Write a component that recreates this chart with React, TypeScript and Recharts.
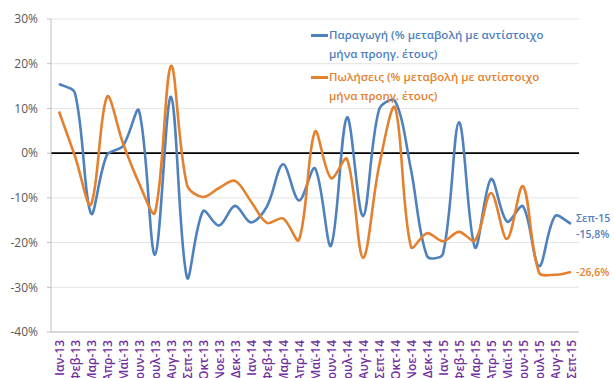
import React from 'react';
import { LineChart, Line, XAxis, YAxis, CartesianGrid, ReferenceLine, Legend } from 'recharts';

const months = [
  'Ιαν-13', 'Φεβ-13', 'Μαρ-13', 'Απρ-13', 'Μαϊ-13', 'Ιουν-13', 'Ιουλ-13', 'Αυγ-13', 'Σεπ-13', 'Οκτ-13', 'Νοε-13', 'Δεκ-13',
  'Ιαν-14', 'Φεβ-14', 'Μαρ-14', 'Απρ-14', 'Μαϊ-14', 'Ιουν-14', 'Ιουλ-14', 'Αυγ-14', 'Σεπ-14', 'Οκτ-14', 'Νοε-14', 'Δεκ-14',
  'Ιαν-15', 'Φεβ-15', 'Μαρ-15', 'Απρ-15', 'Μαϊ-15', 'Ιουν-15', 'Ιουλ-15', 'Αυγ-15', 'Σεπ-15',
];

const production = [
  15.5, 13.4, -13.5, -0.4, 1.6, 9.5, -22.7, 12.6, -27.8, -13, -16.2, -11.8,
  -15.5, -11.9, -2.5, -10.6, -3.4, -20.7, 8.0, -14.1, 9.7, 11.7, -3.7, -23,
  -22.5, 6.9, -21.1, -5.8, -15.3, -11.9, -25.3, -14.1, -15.8,
];

const sales = [
  9.3, -0.7, -11.5, 12.6, 2.2, -6.7, -13.3, 19.5, -7.1, -9.8, -7.8, -6.2,
  -10.8, -15.6, -14.6, -19.4, 4.8, -5.6, -1.3, -23.4, -3, 10.2, -21, -17.9,
  -19.7, -17.6, -19.5, -8.9, -19.2, -7.4, -26.7, -27.2, -26.6,
];

const yTicks = [-40, -30, -20, -10, 0, 10, 20, 30];

const seriesNames = {
  production: ['Παραγωγή (% μεταβολή με αντίστοιχο', 'μήνα προηγ. έτους)'],
  sales: ['Πωλήσεις (% μεταβολή με αντίστοιχο', 'μήνα προηγ. έτους)'],
};

const lastLabels = {
  production: ['Σεπ-15', '-15,8%'],
  sales: ['-26,6%'],
};

const data = months.map((m, i) => ({ month: m, production: production[i], sales: sales[i] }));

const BLUE = '#4f81bd';
const ORANGE = '#e3812f';
const FONT = '"Open Sans", "Noto Sans", sans-serif';

// Excel-like smoothing: Bezier through the points with chord-length weighted handles
const smoothCurve = (context: any) => {
  let pts: number[][] = [];
  const dist = (a: number[], b: number[]) => Math.hypot(b[0] - a[0], b[1] - a[1]);
  return {
    areaStart() {},
    areaEnd() {},
    lineStart() { pts = []; },
    point(x: number, y: number) { pts.push([+x, +y]); },
    lineEnd() {
      const n = pts.length;
      if (!n) return;
      const hin: number[][] = [];
      const hout: number[][] = [];
      for (let i = 0; i < n; i++) {
        const prev = pts[i - 1] || pts[i];
        const next = pts[i + 1] || pts[i];
        const tx = next[0] - prev[0];
        const ty = next[1] - prev[1];
        const dp = dist(prev, pts[i]);
        const dn = dist(pts[i], next);
        const s = dp + dn || 1;
        const k = 1 / 3;
        hin.push([pts[i][0] - tx * k * (dp / s), pts[i][1] - ty * k * (dp / s)]);
        hout.push([pts[i][0] + tx * k * (dn / s), pts[i][1] + ty * k * (dn / s)]);
      }
      context.moveTo(pts[0][0], pts[0][1]);
      for (let i = 0; i < n - 1; i++) {
        context.bezierCurveTo(hout[i][0], hout[i][1], hin[i + 1][0], hin[i + 1][1], pts[i + 1][0], pts[i + 1][1]);
      }
    },
  };
};

const XTick = (props: any) => {
  const { x, y, payload } = props;
  return (
    <text
      x={x}
      y={y}
      transform={`rotate(-90, ${x}, ${y})`}
      textAnchor="end"
      dominantBaseline="central"
      fill="#7030a0"
      fontSize={12}
      fontWeight={600}
      fontFamily={FONT}
    >
      {payload.value}
    </text>
  );
};

const makeEndLabel = (lines: string[], color: string, dyStart: number) => (props: any) => {
  const { x, y, index } = props;
  if (index !== months.length - 1) return null;
  return (
    <text x={x + 5} y={y + dyStart} fill={color} fontSize={10.5} fontWeight={600} fontFamily={FONT}>
      {lines.map((l, k) => (
        <tspan key={k} x={x + 5} dy={k === 0 ? 0 : 16}>{l}</tspan>
      ))}
    </text>
  );
};

const LegendContent = () => {
  const items = [
    { color: BLUE, lines: seriesNames.production },
    { color: ORANGE, lines: seriesNames.sales },
  ];
  return (
    <div style={{ fontFamily: FONT, fontWeight: 600, fontSize: 11.5 }}>
      {items.map((it, i) => (
        <div key={i} style={{ display: 'flex', alignItems: 'flex-start', marginBottom: i === 0 ? 4 : 0 }}>
          <div style={{ width: 17, height: 2.5, background: it.color, marginTop: 9, marginRight: 1 }} />
          <div style={{ color: it.color, lineHeight: '19px' }}>
            {it.lines.map((l, k) => (
              <div key={k}>{l}</div>
            ))}
          </div>
        </div>
      ))}
    </div>
  );
};

export default function App() {
  return (
    <div style={{ position: 'absolute', left: 0, top: 0, width: 614, height: 378, background: '#fff', overflow: 'hidden' }}>
      <LineChart width={614} height={378} data={data} margin={{ top: 19, right: 35, left: 0, bottom: 0 }}>
        <CartesianGrid vertical={false} stroke="#e4e4e4" />
        <XAxis
          dataKey="month"
          interval={0}
          height={46}
          padding={{ left: 8, right: 8 }}
          tick={<XTick />}
          tickLine={false}
          tickSize={0}
          tickMargin={8}
          axisLine={{ stroke: '#bfbfbf' }}
        />
        <YAxis
          width={51}
          domain={[-40, 30]}
          ticks={yTicks}
          tickFormatter={(v: number) => `${v}%`}
          tick={{ fill: '#595959', fontSize: 12, fontFamily: FONT }}
          tickSize={4}
          tickMargin={9}
          tickLine={{ stroke: '#bfbfbf' }}
          axisLine={{ stroke: '#bfbfbf' }}
          interval={0}
        />
        <ReferenceLine y={0} stroke="#000" strokeWidth={1.6} />
        <Legend
          content={<LegendContent />}
          wrapperStyle={{ position: 'absolute', left: 311, top: 25, width: 290, height: 0, overflow: 'visible' }}
        />
        <Line
          dataKey="production"
          type={smoothCurve as any}
          stroke={BLUE}
          strokeWidth={2.6}
          dot={false}
          isAnimationActive={false}
          label={makeEndLabel(lastLabels.production, BLUE, -2)}
        />
        <Line
          dataKey="sales"
          type={smoothCurve as any}
          stroke={ORANGE}
          strokeWidth={2.6}
          dot={false}
          isAnimationActive={false}
          label={makeEndLabel(lastLabels.sales, ORANGE, 4)}
        />
      </LineChart>
    </div>
  );
}
